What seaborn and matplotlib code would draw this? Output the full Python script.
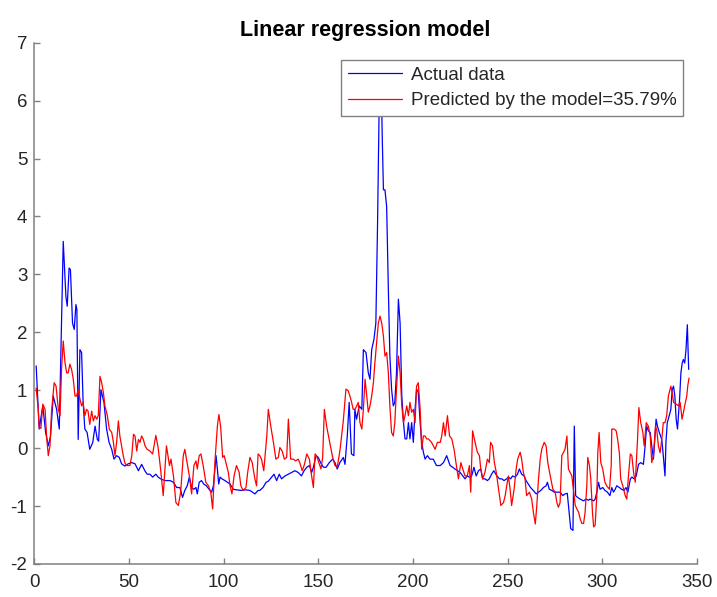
import pandas as pd
import seaborn as sns
import matplotlib
matplotlib.use("Agg")
import matplotlib.pyplot as plt

sns.set_theme(style="white")
plt.rcParams['font.family'] = ['Liberation Sans', 'DejaVu Sans']
plt.rcParams['axes.unicode_minus'] = False

# values (vertex positions of each trace)
actual_x = [1, 2.6, 4.5, 6.0, 7.4, 8.6, 10.0, 11.8, 13.2, 15.3, 16.7, 17.4, 18.4, 19.1, 20.2,
            21.1, 22.0, 22.5, 23.2, 24.1, 25.0, 25.8, 26.7, 27.9, 29.3, 30.9, 32.1, 33.3, 34.0,
            35.2, 36.8, 38.2, 39.5, 40.9, 42.1, 43.5, 44.9, 46.1, 47.8, 49.6, 51.5, 53.2, 55.0,
            56.7, 58.4, 59.6, 61.1, 62.5, 64.2, 65.4, 66.7, 68.9, 71.7, 73.5, 75.2, 76.9, 78.3,
            79.5, 80.8, 81.9, 83.1, 84.3, 85.4, 86.1, 87.1, 88.3, 89.5, 90.9, 92.3, 93.7, 94.6,
            96.0, 96.7, 97.4, 98.1, 99.1, 100.7, 102.0, 103.4, 105.1, 106.8, 109.4, 111.8, 113.9,
            116.5, 118.2, 119.1, 120.8, 122.4, 123.6, 125.4, 126.6, 128.0, 129.4, 130.6, 132.4,
            134.2, 135.9, 137.6, 139.4, 141.1, 142.5, 143.9, 145.3, 146.5, 147.4, 148.8, 150.0,
            151.2, 152.7, 154.1, 155.8, 157.6, 158.8, 160.0, 161.4, 163.2, 164.1, 165.3, 166.3,
            167.5, 168.8, 169.3, 170.2, 171.6, 173.0, 173.8, 175.2, 176.4, 177.3, 178.2, 179.4,
            180.4, 181.3, 182.3, 183.2, 183.8, 184.4, 185.2, 186.1, 187.0, 187.8, 188.7, 189.6,
            190.4, 191.3, 192.3, 193.2, 194.1, 195.0, 195.8, 196.7, 197.6, 198.4, 199.3, 200.2,
            201.1, 201.9, 202.8, 203.8, 204.6, 205.5, 206.4, 207.6, 209.0, 210.7, 212.4, 214.4,
            216.1, 217.8, 219.6, 221.0, 222.2, 223.5, 224.9, 226.3, 227.5, 228.7, 229.8, 231.0,
            232.2, 233.4, 234.6, 235.8, 236.8, 238.0, 239.3, 240.3, 241.5, 242.7, 244.3, 245.7,
            246.9, 248.1, 249.5, 250.4, 251.6, 252.6, 254.0, 255.2, 256.2, 257.4, 258.7, 259.7,
            260.9, 262.1, 263.5, 265.1, 266.3, 267.5, 268.9, 270.3, 271.0, 272.0, 273.3, 274.6,
            276.0, 277.7, 279.1, 280.3, 281.5, 282.6, 283.3, 284.5, 285.2, 285.9, 286.9, 288.3,
            290.1, 291.4, 292.7, 293.5, 295.4, 296.2, 297.1, 298.0, 298.8, 300.2, 301.4, 302.7,
            304.0, 305.0, 305.9, 306.8, 307.6, 309.0, 310.2, 311.4, 312.5, 313.5, 314.8, 315.6,
            316.8, 317.9, 319.1, 320.3, 321.7, 322.6, 323.4, 324.3, 325.3, 326.1, 327.0, 327.9,
            328.4, 329.1, 330.1, 331.4, 332.2, 333.1, 333.6, 334.3, 335.5, 336.2, 336.9, 337.6,
            338.3, 339.0, 339.7, 340.8, 341.5, 342.2, 342.8, 343.5, 344.2, 344.9, 345.6]
actual_y = [1.42, 0.33, 0.73, 0.27, 0.04, 0.21, 0.90, 0.67, 0.33, 3.57, 2.62, 2.45, 3.11, 3.08, 2.16,
            2.05, 2.48, 2.39, 0.15, 1.70, 1.65, 0.79, 0.33, 0.27, -0.02, 0.10, 0.38, 0.15, 0.12,
            1.01, 0.79, 0.33, 0.10, -0.02, -0.19, -0.13, -0.16, -0.27, -0.31, -0.27, -0.25, -0.27, -0.39,
            -0.28, -0.39, -0.45, -0.45, -0.50, -0.45, -0.50, -0.53, -0.56, -0.56, -0.59, -0.68, -0.68, -0.85,
            -0.73, -0.65, -0.50, -0.68, -0.71, -0.68, -0.79, -0.59, -0.56, -0.62, -0.65, -0.71, -0.76, -0.65,
            -0.13, -0.36, -0.62, -0.50, -0.53, -0.56, -0.59, -0.62, -0.71, -0.72, -0.73, -0.72, -0.73,
            -0.79, -0.73, -0.73, -0.68, -0.59, -0.57, -0.50, -0.45, -0.56, -0.45, -0.53, -0.48,
            -0.45, -0.42, -0.39, -0.42, -0.48, -0.39, -0.33, -0.30, -0.42, -0.33, -0.13, -0.16,
            -0.25, -0.33, -0.33, -0.25, -0.19, -0.25, -0.36, -0.25, -0.16, -0.28, 0.21, 0.79,
            -0.10, -0.13, 0.67, 0.50, 0.73, 0.67, 1.70, 1.65, 1.30, 1.19, 1.70, 1.88,
            2.16, 3.88, 6.30, 6.40, 5.32, 4.46, 4.46, 4.17, 2.74, 1.59, 1.02, 0.73,
            0.79, 1.30, 2.57, 2.16, 0.90, 0.44, 0.16, 0.16, 0.44, 0.16, 0.44, 0.10,
            0.67, 1.02, 0.96, 0.44, 0.10, -0.07, -0.19, -0.13, -0.19, -0.19, -0.30, -0.30,
            -0.25, -0.13, -0.30, -0.33, -0.36, -0.39, -0.42, -0.48, -0.53, -0.48, -0.50, -0.48,
            -0.33, -0.48, -0.39, -0.36, -0.53, -0.53, -0.56, -0.53, -0.45, -0.39, -0.48, -0.53,
            -0.53, -0.56, -0.53, -0.50, -0.53, -0.48, -0.50, -0.45, -0.36, -0.45, -0.48, -0.56,
            -0.62, -0.68, -0.73, -0.79, -0.76, -0.73, -0.68, -0.65, -0.59, -0.71, -0.73, -0.76,
            -0.76, -0.76, -0.82, -0.79, -0.78, -1.16, -1.39, -1.42, 0.38, -0.82, -0.85, -0.88,
            -0.91, -0.88, -0.90, -0.88, -0.91, -0.88, -0.76, -0.59, -0.71, -0.68, -0.73, -0.76,
            -0.82, -0.68, -0.76, -0.71, -0.65, -0.68, -0.71, -0.73, -0.68, -0.76, -0.53, -0.50,
            -0.53, -0.48, -0.28, -0.25, -0.28, 0.04, 0.38, 0.30, 0.27, 0.04, -0.19, 0.27,
            0.50, 0.38, 0.27, 0.15, -0.13, -0.48, 0.10, 0.44, 0.58, 0.67, 1.01, 1.07,
            0.90, 0.50, 0.33, 0.84, 1.30, 1.47, 1.53, 1.47, 1.70, 2.13, 1.36]

predicted_x = [1, 2.1, 2.6, 3.5, 4.5, 5.7, 6.5, 7.4, 8.3, 9.1, 10.5, 11.5, 12.7, 13.6, 14.4, 15.3,
               16.2, 17.1, 17.9, 18.8, 19.7, 20.6, 21.5, 22.3, 23.2, 24.1, 25.0, 25.8, 26.7, 27.6,
               28.4, 29.3, 30.3, 31.2, 32.1, 33.0, 33.8, 34.7, 35.6, 36.5, 37.3, 38.6, 39.6, 40.9,
               41.8, 42.6, 43.5, 44.4, 45.2, 46.1, 47.0, 47.8, 48.7, 50.5, 51.5, 52.4, 53.2, 54.1,
               55.0, 55.8, 56.7, 57.6, 58.5, 59.6, 61.1, 62.5, 64.2, 65.4, 66.7, 68.1, 69.8, 71.4,
               72.2, 73.5, 74.8, 76.1, 77.3, 78.7, 79.5, 80.4, 81.9, 83.1, 84.3, 85.4, 86.1, 87.1,
               88.0, 89.2, 90.6, 92.0, 93.2, 94.2, 95.5, 96.7, 97.5, 98.4, 99.5, 100.3, 101.2, 102.5,
               103.4, 104.4, 105.5, 106.8, 108.2, 109.1, 110.3, 111.8, 112.7, 113.9, 115.1, 116.5,
               117.4, 118.2, 119.1, 120.0, 121.2, 122.8, 123.6, 124.9, 126.3, 127.6, 128.9, 129.7,
               130.9, 132.1, 133.3, 134.2, 135.4, 136.8, 138.0, 139.4, 140.2, 141.5, 142.7, 143.9,
               145.3, 146.2, 147.4, 148.3, 149.1, 150.3, 151.4, 152.3, 153.2, 154.4, 156.2, 157.6,
               158.8, 160.0, 161.4, 163.2, 164.6, 165.8, 166.7, 167.6, 168.4, 169.4, 170.3, 171.1,
               172.0, 173.0, 173.8, 174.7, 175.6, 176.4, 177.3, 178.2, 179.1, 179.9, 180.8, 181.7,
               182.6, 183.5, 184.4, 185.2, 186.1, 187.0, 187.8, 188.7, 189.6, 190.4, 191.3, 192.3,
               193.2, 194.1, 195.0, 195.8, 196.7, 197.6, 198.4, 199.3, 200.2, 201.1, 201.9, 202.8,
               203.8, 204.6, 205.5, 206.4, 207.2, 208.1, 209.8, 211.7, 212.9, 214.4, 215.2, 216.1,
               217.0, 218.2, 219.3, 220.5, 221.7, 222.7, 224.0, 225.3, 226.3, 227.5, 228.7, 229.8,
               230.5, 231.5, 232.8, 234.0, 235.1, 235.8, 236.8, 238.0, 239.3, 240.3, 241.0, 242.0,
               243.0, 244.0, 245.2, 246.4, 247.8, 248.7, 249.5, 250.4, 251.3, 252.1, 253.4, 254.5,
               255.3, 256.6, 257.4, 258.3, 259.2, 260.0, 261.5, 262.7, 263.6, 264.6, 265.4, 266.3,
               267.2, 268.0, 269.3, 270.3, 271.2, 272.5, 273.9, 275.1, 276.0, 276.8, 277.7, 278.6,
               279.4, 280.3, 281.3, 282.1, 283.0, 283.9, 284.9, 285.7, 286.6, 287.5, 288.3, 289.2,
               290.1, 290.9, 291.8, 292.3, 293.2, 293.9, 294.8, 295.4, 296.2, 297.1, 297.6, 298.3,
               299.2, 300.2, 301.4, 302.3, 303.8, 304.7, 305.0, 306.2, 307.3, 308.1, 309.0, 309.7,
               310.8, 312.1, 312.9, 313.8, 314.8, 315.6, 316.5, 317.4, 318.6, 319.3, 320.3, 321.4,
               322.1, 323.2, 324.3, 325.3, 326.1, 327.0, 328.1, 328.8, 329.6, 330.5, 331.4, 332.2,
               333.1, 334.0, 334.9, 336.2, 336.9, 337.6, 339.0, 340.2, 341.1, 342.1, 342.8, 343.5,
               344.6, 345.1, 345.8]
predicted_y = [1.04, 0.67, 0.36, 0.34, 0.76, 0.67, 0.21, -0.13, 0.04, 0.62, 1.13, 1.07, 0.67, 0.56, 1.36, 1.85,
               1.48, 1.30, 1.30, 1.45, 1.36, 1.19, 0.90, 0.90, 1.01, 0.85, 0.73, 0.79, 0.56, 0.67,
               0.64, 0.41, 0.64, 0.47, 0.56, 0.50, 0.56, 1.24, 1.13, 0.96, 0.73, 0.56, 0.33, 0.27,
               0.10, -0.13, 0.10, 0.47, 0.21, 0.04, -0.13, -0.25, -0.30, -0.30, -0.13, 0.24, 0.21, -0.05,
               0.15, 0.10, 0.21, 0.15, 0.04, -0.02, -0.05, -0.10, 0.22, 0.01, -0.36, -0.82, 0.04, -0.30,
               -0.19, -0.48, -0.94, -0.99, -0.76, -0.13, -0.02, -0.19, -0.48, -0.79, -0.30, -0.22, -0.36, -0.13,
               -0.10, -0.30, -0.59, -0.65, -0.76, -1.05, -0.19, 0.38, 0.58, 0.38, -0.16, -0.13, -0.25, -0.42,
               -0.65, -0.79, -0.48, -0.30, -0.42, -0.65, -0.73, -0.68, -0.42, -0.16, -0.25, -0.53,
               -0.65, -0.10, -0.13, -0.19, -0.39, 0.21, 0.67, 0.38, 0.10, -0.19, -0.16, 0.01,
               -0.05, -0.19, -0.16, 0.50, -0.19, -0.19, -0.22, -0.19, -0.25, -0.39, -0.28, -0.10,
               -0.19, -0.42, -0.68, -0.10, -0.13, -0.25, -0.36, -0.16, 0.67, 0.38, 0.07, -0.16,
               -0.30, -0.33, -0.05, 0.47, 1.02, 0.99, 0.90, 0.79, 0.67, 0.67, 0.73, 0.79,
               0.44, 0.33, 0.67, 1.19, 0.90, 0.62, 0.73, 0.90, 1.13, 1.48, 1.82, 2.16,
               2.28, 2.16, 1.93, 1.59, 1.65, 1.30, 0.73, 0.27, 0.21, 0.44, 1.02, 1.59,
               1.30, 0.73, 0.44, 0.56, 0.73, 0.56, 0.79, 0.62, 0.67, 0.44, 1.07, 1.13,
               0.67, -0.02, 0.21, 0.21, 0.16, 0.16, 0.10, -0.02, 0.10, 0.10, 0.21, 0.44,
               0.21, 0.56, 0.21, 0.16, -0.02, -0.25, -0.53, -0.25, -0.36, -0.48, -0.48, -0.30,
               -0.76, 0.30, 0.10, -0.07, -0.13, -0.36, -0.53, -0.42, -0.19, -0.25, 0.10, 0.04,
               -0.25, -0.42, -0.71, -0.99, -0.94, -0.82, -0.65, -0.48, -0.71, -0.99, -0.71, -0.36,
               -0.19, -0.07, -0.19, -0.42, -0.53, -0.82, -0.76, -0.88, -1.11, -1.31, -0.99, -0.53,
               -0.19, -0.02, 0.10, 0.04, -0.25, -0.48, -0.71, -0.76, -0.94, -1.02, -0.94, -0.13,
               -0.08, -0.02, 0.21, -0.36, -0.42, -0.48, -0.76, -0.99, -1.05, -1.11, -1.22, -1.30,
               -1.30, -1.11, -0.65, -0.16, -0.30, -0.53, -1.11, -1.36, -1.33, -0.82, -0.08, 0.27,
               -0.25, -0.36, -0.59, -0.65, -0.71, -0.30, 0.33, 0.33, 0.30, 0.15, -0.08, -0.53,
               -0.65, -0.82, -0.88, -0.48, -0.10, -0.13, -0.42, -0.59, 0.15, 0.70, 0.44, 0.27,
               0.04, 0.44, 0.38, 0.21, -0.25, -0.13, 0.38, 0.30, 0.04, -0.08, 0.15, 0.44,
               0.44, 0.56, 0.90, 1.07, 0.96, 0.79, 0.76, 0.73, 0.79, 0.50, 0.61, 0.73,
               0.90, 1.07, 1.21]

x_ticks = [0, 50, 100, 150, 200, 250, 300, 350]
y_ticks = [-2, -1, 0, 1, 2, 3, 4, 5, 6, 7]

actual = pd.DataFrame({"x": actual_x, "y": actual_y})
predicted = pd.DataFrame({"x": predicted_x, "y": predicted_y})

fig = plt.figure(figsize=(7.17, 5.97), dpi=100)
ax = fig.add_axes([0.0478, 0.0553, 0.9243, 0.8732])

sns.lineplot(data=actual, x="x", y="y", ax=ax, color=(0, 0, 1), lw=0.9,
             sort=False, estimator=None, label="Actual data")
sns.lineplot(data=predicted, x="x", y="y", ax=ax, color=(1, 0, 0), lw=0.9,
             sort=False, estimator=None, label="Predicted by the model=35.79%")

ax.set_xlim(0, 350)
ax.set_ylim(-2, 7)
ax.set_xticks(x_ticks)
ax.set_yticks(y_ticks)
ax.set_xlabel("")
ax.set_ylabel("")
ax.set_title("Linear regression model", fontsize=15.5, fontweight="bold", color="black", pad=5)

for side in ["top", "right"]:
    ax.spines[side].set_visible(False)
for side in ["left", "bottom"]:
    ax.spines[side].set_color("#808080")
    ax.spines[side].set_linewidth(1.1)
ax.tick_params(direction="in", length=4, width=1.0, color="#808080",
               labelsize=13.5, labelcolor="#262626", left=True, bottom=True)
ax.tick_params(axis="x", pad=7)
ax.tick_params(axis="y", pad=5)

leg = ax.legend(loc="upper right", bbox_to_anchor=(0.979, 0.967), borderaxespad=0,
                fontsize=13.5, fancybox=False, framealpha=1, edgecolor="#808080",
                handlelength=2.9, borderpad=0.35, labelspacing=0.45, handletextpad=0.45)
leg.get_frame().set_linewidth(1.0)

plt.savefig("out.png", dpi=100)
plt.close()
